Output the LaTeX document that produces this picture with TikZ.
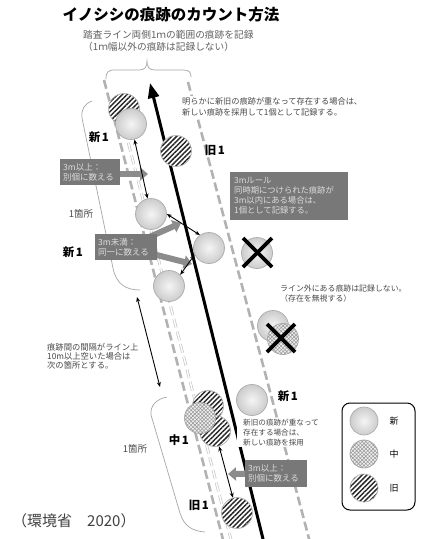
\documentclass[tikz,border=0pt]{standalone}
\usepackage{fontspec}
\setmainfont{Noto Sans CJK JP}
\usetikzlibrary{arrows.meta,patterns.meta}
\definecolor{boxgray}{RGB}{120,120,120}
\definecolor{arrowgray}{RGB}{140,140,140}
\definecolor{notegray}{RGB}{72,72,72}
\definecolor{boxtext}{RGB}{220,220,220}
\pgfdeclarelayer{back}
\pgfdeclarelayer{mid}
\pgfsetlayers{back,mid,main}
\begin{document}
\begin{tikzpicture}[x=1pt,y=-1pt,
  newc/.style={circle, draw=gray!65, line width=0.7pt, inner color=gray!8, outer color=gray!40, minimum size=31pt, inner sep=0pt},
  midc/.style={circle, draw=gray!70, line width=0.7pt, preaction={fill=gray!12}, pattern={Hatch[distance=2.6pt, angle=45, line width=0.55pt]}, pattern color=gray!80, minimum size=31pt, inner sep=0pt},
  oldc/.style={circle, draw=gray!60, line width=0.7pt, preaction={fill=white}, pattern={Lines[distance=3.4pt, angle=45, line width=1.45pt]}, pattern color=black!85, minimum size=31pt, inner sep=0pt},
  legc/.style={minimum size=28pt},
  strip/.style={gray!60, line width=2.6pt, dash pattern=on 9pt off 4pt},
  ghostout/.style={gray!45, line width=2.8pt, dash pattern=on 9pt off 4pt},
  ghostin/.style={white, line width=1.4pt, dash pattern=on 9pt off 4pt},
  lbl/.style={font=\bfseries\fontsize{11.5}{12}\selectfont, inner sep=0pt},
  note/.style={text=notegray, align=left, inner sep=1pt, anchor=north west},
  gbox/.style={fill=boxgray, text=boxtext, align=left, anchor=north west, inner ysep=2pt},
  blockarrow/.style={draw=arrowgray, line width=6pt, -{Triangle[width=13pt,length=8pt]}},
  dbl/.style={black, line width=0.9pt, {Stealth[length=5pt,width=4pt]}-{Stealth[length=5pt,width=4pt]}},
  brk/.style={gray!70, line width=0.7pt},
  xmark/.style={black, line width=3.6pt},
]
\useasboundingbox (0,0) rectangle (422,539);
\begin{pgfonlayer}{back}
\fill[white] (0,0) rectangle (422,539);
% strip lines
\coordinate (Lt) at (104,80); \coordinate (Lb) at (224.4,545);
\coordinate (Gt) at (118.5,105); \coordinate (Gb) at (232.4,545);
\coordinate (Ct) at (150,83); \coordinate (Cb) at (264.5,545);
\coordinate (Rt) at (188,82); \coordinate (Rb) at (310.7,545);
\draw[ghostout] (Gt) -- (Gb);
\draw[ghostin] (Gt) -- (Gb);
\draw[strip] (Lt) -- (Lb);
\draw[strip] (Rt) -- (Rb);
\draw[line width=3pt, -{Triangle[width=11pt,length=15pt]}] (Cb) -- (Ct);
% top brace
\draw[brk] (106,79) .. controls (106,72) and (108,70) .. (115,70) -- (139,70)
  .. controls (145,70) and (147,67) .. (147,61) .. controls (147,67) and (149,70) .. (155,70)
  -- (183,70) .. controls (189,70) and (191,72) .. (191,77);
% brackets
\draw[brk] (92,101) .. controls (84,104) and (81,110) .. (82,118) -- (113,268)
  .. controls (116,284) and (126,290) .. (140,290);
\draw[brk] (167,397) .. controls (157,399) and (150,405) .. (151,415) -- (180,513)
  .. controls (184,526) and (192,531) .. (205,532);
\end{pgfonlayer}

% title and headings
\node[font=\bfseries\fontsize{15.5}{17}\selectfont, inner sep=0pt] (title) at (171,15) {イノシシの痕跡のカウント方法};
\node[note, text=black!62, font=\fontsize{9.7}{12.5}\selectfont] (sub) at (82,29) {踏査ライン両側1ｍの範囲の痕跡を記録\\（1ｍ幅以外の痕跡は記録しない）};
\node[note, fill=white, font=\fontsize{8.2}{11}\selectfont] (topnote) at (181,96) {明らかに新旧の痕跡が重なって存在する場合は、\\新しい痕跡を採用して1個として記録する。};
\node[note, font=\fontsize{7.9}{9.6}\selectfont] (outnote) at (279,284) {ライン外にある痕跡は記録しない。\\（存在を無視する）};
\node[note, font=\fontsize{8.3}{9.2}\selectfont] (gapnote) at (46,342) {痕跡間の間隔がライン上\\10m以上空いた場合は\\次の箇所とする。};
\node[note, fill=white, inner xsep=6pt, inner ysep=1pt, font=\fontsize{7.6}{10}\selectfont] (ovnote) at (237,418) {新旧の痕跡が重なって\\存在する場合は、\\新しい痕跡を採用};

% circles
\node[oldc] (o1) at (124,109) {};
\node[newc] (n1) at (131,124) {};
\node[oldc] (o2) at (176,151) {};
\node[newc] (n2) at (151,214) {};
\node[newc] (n3) at (209,248) {};
\node[newc] (n4) at (169,286) {};
\node[newc] (x1) at (257,253) {};
\node[newc] (x2a) at (273,326) {};
\node[midc] (x2b) at (283,339) {};
\node[newc] (n5) at (252,400) {};
\node[oldc] (o3) at (208,406) {};
\node[oldc] (o4) at (215,431) {};
\node[midc] (m1) at (200,418) {};
\node[oldc] (o5) at (237,513) {};

% crosses
\coordinate (X1) at (257.5,252.5);
\coordinate (X2) at (281,338);
\draw[xmark] ([shift={(-14.5,-14.5)}]X1) -- ([shift={(14.5,14.5)}]X1);
\draw[xmark] ([shift={(14.5,-14.5)}]X1) -- ([shift={(-14.5,14.5)}]X1);
\draw[xmark] ([shift={(-14,-14)}]X2) -- ([shift={(14,14)}]X2);
\draw[xmark] ([shift={(14,-14)}]X2) -- ([shift={(-14,14)}]X2);

% thin double arrows
\draw[dbl] (n1) -- (n2);
\draw[dbl] (n2.east) -- (n3.125);
\draw[dbl] (n3.205) -- (n4.45);
\coordinate (g1) at (137,297);
\coordinate (g2) at (160,387);
\draw[dbl] (g1) -- (g2);
\draw[dbl] (o4) -- (o5);

% grey boxes
\node[gbox, inner xsep=3pt, text width=54pt, minimum height=26pt, font=\fontsize{8.5}{10}\selectfont] (bA) at (60,159) {3m以上：\\別個に数える};
\node[gbox, inner xsep=4pt, text width=110pt, minimum height=48pt, font=\fontsize{8.3}{10}\selectfont] (bB) at (230,172) {3mルール\\同時期につけられた痕跡が\\3m以内にある場合は、\\1個として記録する。};
\node[gbox, inner xsep=3pt, text width=56pt, minimum height=26pt, font=\fontsize{8.5}{10}\selectfont] (bC) at (95,234) {3m未満：\\同一に数える};
\node[gbox, inner xsep=3pt, text width=56pt, minimum height=27pt, font=\fontsize{8.5}{10}\selectfont] (bD) at (245,460) {3m以上：\\別個に数える};

% block arrows
\coordinate (tA) at (148,174);
\coordinate (tC1) at (181,223);
\coordinate (tC2) at (192,264);
\coordinate (tD) at (228,474);
\begin{pgfonlayer}{mid}
\draw[blockarrow] (bA.east |- tA) -- (tA);
\draw[blockarrow] (bC.center) -- (tC1);
\draw[blockarrow] (bC.center) -- (tC2);
\draw[blockarrow] (bD.center) -- (tD);
\end{pgfonlayer}

% labels
\node[lbl] (l1) at (99,137) {新\hspace{1.5pt}1};
\node[lbl] (l2) at (215,150) {旧\hspace{1.5pt}1};
\node[lbl] (l3) at (73,252) {新\hspace{1.5pt}1};
\node[lbl] (l4) at (288,396) {新\hspace{1.5pt}1};
\node[lbl] (l5) at (179,440) {中\hspace{1.5pt}1};
\node[lbl] (l6) at (199,505) {旧\hspace{1.5pt}1};
\node[text=black!70, font=\fontsize{9.5}{10}\selectfont] (k1) at (81,214) {1箇所};
\node[text=black!70, font=\fontsize{9.5}{10}\selectfont] (k2) at (135,449) {1箇所};

% legend
\node[draw, rounded corners=8pt, line width=1pt, minimum width=73pt, minimum height=107pt] (leg) at (378.5,456.5) {};
\node[newc, legc] (lg1) at (364,421) {};
\node[midc, legc] (lg2) at (364,454) {};
\node[oldc, legc] (lg3) at (364,488) {};
\node[font=\fontsize{9}{10}\selectfont] (lt1) at (394,421) {新};
\node[font=\fontsize{9}{10}\selectfont] (lt2) at (394,454) {中};
\node[font=\fontsize{9}{10}\selectfont] (lt3) at (394,488) {旧};

% citation
\node[anchor=west, text=black!75, font=\fontsize{15}{16}\selectfont, inner sep=0pt] (cite) at (12,521) {（環境省　2020）};
\end{tikzpicture}
\end{document}
